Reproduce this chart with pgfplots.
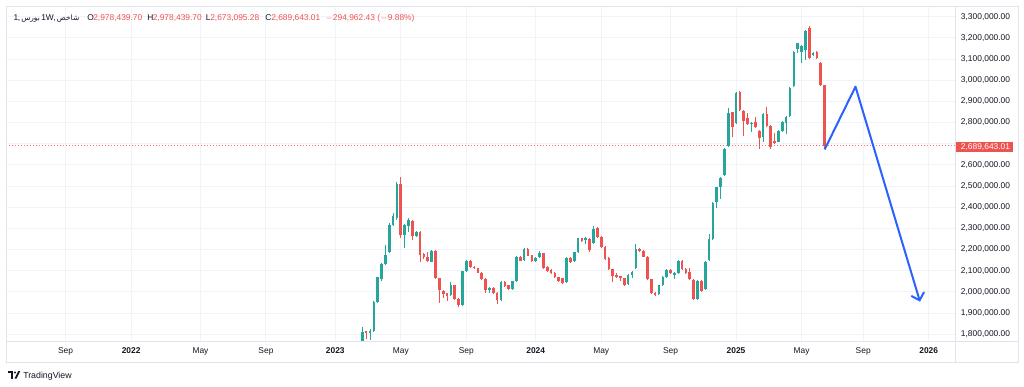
\documentclass[border=0pt]{standalone}
\usepackage{fontspec}
\setmainfont{Liberation Sans}
\newfontfamily\arabicfont[Script=Arabic]{DejaVu Sans}
\TeXXeTstate=1
\usepackage{pgfplots}
\pgfplotsset{compat=1.18}
\usepackage{pgfplotstable}
\usetikzlibrary{arrows.meta}
\definecolor{tvgreen}{HTML}{26A69A}
\definecolor{tvred}{HTML}{EF5350}
\definecolor{tvgrid}{HTML}{F0F3FA}
\definecolor{tvborder}{HTML}{E0E3EB}
\definecolor{tvtext}{HTML}{131722}
\definecolor{tvblue}{HTML}{2962FF}
\newcommand\tvfont{\fontsize{6.3}{7}\selectfont}

% x = weekly bar index, o h l c in thousands
\pgfplotstableread{
x o h l c
0 1740 1833 1730 1812
2 1809 1824 1773 1817
3 1817 1957 1812 1954
4 1954 2072 1950 2069
5 2060 2135 2050 2132
6 2132 2222 2128 2174
7 2190 2327 2185 2316
8 2316 2374 2310 2359
9 2348 2521 2340 2510
11 2269 2320 2206 2315
12 2313 2348 2285 2340
14 2264 2288 2258 2284
18 2143 2200 2140 2195
23 1985 2048 1980 2031
26 1940 2100 1935 2097
27 2097 2150 2092 2146
33 2009 2025 1994 2020
36 1962 2052 1958 2048
39 2012 2054 2008 2050
40 2050 2170 2046 2164
42 2151 2207 2148 2203
45 2146 2166 2142 2162
46 2164 2195 2160 2182
53 2048 2163 2044 2159
55 2146 2191 2142 2187
56 2190 2257 2186 2253
58 2245 2260 2225 2256
60 2230 2313 2225 2297
69 2036 2084 2032 2080
70 2080 2100 2067 2096
71 2112 2226 2108 2203
77 1990 2035 1986 2031
78 2031 2074 2027 2070
79 2072 2108 2068 2104
81 2079 2095 2060 2091
82 2091 2152 2087 2148
87 1965 2057 1961 2053
89 2013 2147 2009 2143
90 2151 2272 2147 2250
91 2250 2425 2246 2421
92 2423 2498 2395 2494
93 2497 2541 2439 2537
94 2552 2680 2548 2675
95 2691 2867 2686 2844
97 2797 2945 2792 2938
101 2795 2804 2757 2800
104 2730 2843 2710 2839
108 2710 2764 2706 2760
109 2760 2808 2756 2804
110 2796 2829 2745 2825
111 2832 2966 2828 2962
112 2973 3139 2969 3135
113 3146 3178 3127 3174
114 3135 3166 3083 3162
115 3143 3236 3095 3232
117 3119 3131 3115 3127
}\greendata

\pgfplotstableread{
x o h l c
1 1814 1816 1776 1808
10 2510 2544 2253 2269
13 2337 2342 2245 2264
15 2283 2288 2143 2173
16 2178 2182 2155 2164
17 2167 2190 2143 2148
19 2195 2198 2060 2064
20 2064 2067 1949 2009
21 2006 2010 1970 1990
22 1994 1996 1959 1982
24 2031 2035 1960 1965
25 1967 1970 1930 1938
28 2146 2150 2115 2119
29 2119 2124 2108 2112
30 2112 2115 2088 2091
31 2091 2094 2057 2061
32 2063 2066 1994 2009
34 2017 2025 1990 1994
35 1994 1998 1943 1962
37 2048 2052 2024 2028
38 2031 2034 2008 2012
41 2164 2168 2144 2148
43 2203 2206 2168 2171
44 2173 2176 2142 2146
47 2182 2186 2110 2115
48 2119 2122 2095 2099
49 2104 2107 2087 2091
50 2091 2094 2065 2069
51 2069 2072 2049 2053
52 2065 2068 2038 2044
54 2162 2165 2137 2141
57 2253 2257 2237 2241
59 2250 2254 2187 2198
61 2302 2306 2254 2258
62 2259 2262 2207 2211
63 2214 2217 2153 2157
64 2162 2165 2103 2107
65 2107 2110 2048 2075
66 2081 2091 2068 2072
67 2074 2077 2053 2064
68 2064 2067 2029 2033
72 2203 2207 2189 2193
73 2195 2198 2163 2167
74 2167 2170 2056 2060
75 2060 2063 1990 1994
76 1997 2000 1982 1986
80 2104 2108 2084 2088
83 2148 2152 2105 2109
84 2109 2112 2087 2091
85 2096 2112 2056 2060
86 2056 2060 1961 1965
88 2053 2057 2002 2006
96 2848 2852 2730 2780
98 2943 2947 2855 2859
99 2856 2860 2738 2809
100 2820 2844 2789 2793
102 2804 2825 2774 2778
103 2762 2766 2675 2726
105 2840 2872 2780 2784
106 2785 2789 2674 2686
107 2712 2749 2700 2707
116 3245 3256 3100 3104
118 3132 3140 3100 3104
119 3083 3087 2975 2978.4397
120 2978.4397 2978.4397 2673.09528 2689.64301
}\reddata

\begin{document}
\begin{tikzpicture}[x=0.75pt,y=0.75pt]
\useasboundingbox (0,0) rectangle (1024,386);
\fill[white] (0,0) rectangle (1024,386);

\begin{axis}[
  at={(4.5pt,33.225pt)}, anchor=south west,
  scale only axis, width=712.275pt, height=251.025pt,
  xmin=-92.47, xmax=154.01, ymin=1765, ymax=3345.8,
  axis line style={draw=none},
  grid=major, major grid style={draw=tvgrid, line width=0.75pt},
  major tick length=0pt,
  xtick={-77,-60,-42,-25,-7,10,27,45,62,80,97,114,130,147},
  xticklabels={Sep,\textbf{2022},May,Sep,\textbf{2023},May,Sep,\textbf{2024},May,Sep,\textbf{2025},May,Sep,\textbf{2026}},
  ytick={1800,1900,...,3300},
  yticklabels={{1,800,000.00},{1,900,000.00},{2,000,000.00},{2,100,000.00},{2,200,000.00},{2,300,000.00},{2,400,000.00},{2,500,000.00},{2,600,000.00},{},{2,800,000.00},{2,900,000.00},{3,000,000.00},{3,100,000.00},{3,200,000.00},{3,300,000.00}},
  yticklabel pos=right,
  ticklabel style={font=\tvfont, color=tvtext},
  yticklabel style={anchor=west, inner sep=0pt, xshift=3.75pt},
  xticklabel style={anchor=base, inner sep=0pt, yshift=-9.2pt},
]
% last price line
\addplot[tvred!80, line width=0.75pt, dash pattern=on 0.75pt off 1.5pt] coordinates {(-92.47,2689.64301) (154.01,2689.64301)};
% wicks
\addplot[draw=none, mark=none, error bars/.cd, y dir=both, y explicit, error mark=none,
  error bar style={draw=tvgreen, line width=0.75pt}]
  table[x=x, y expr={(\thisrow{h}+\thisrow{l})/2}, y error expr={(\thisrow{h}-\thisrow{l})/2}] {\greendata};
\addplot[draw=none, mark=none, error bars/.cd, y dir=both, y explicit, error mark=none,
  error bar style={draw=tvred, line width=0.75pt}]
  table[x=x, y expr={(\thisrow{h}+\thisrow{l})/2}, y error expr={(\thisrow{h}-\thisrow{l})/2}] {\reddata};
% bodies
\addplot[draw=none, mark=none, error bars/.cd, y dir=both, y explicit, error mark=none,
  error bar style={draw=tvgreen, line width=2pt}]
  table[x=x, y expr={(\thisrow{o}+\thisrow{c})/2}, y error expr={abs(\thisrow{c}-\thisrow{o})/2}] {\greendata};
\addplot[draw=none, mark=none, error bars/.cd, y dir=both, y explicit, error mark=none,
  error bar style={draw=tvred, line width=2pt}]
  table[x=x, y expr={(\thisrow{o}+\thisrow{c})/2}, y error expr={abs(\thisrow{o}-\thisrow{c})/2}] {\reddata};
% forecast arrow
\addplot[tvblue, line width=1.5pt, line join=round, -{Straight Barb[length=5pt,width=10pt,line width=1.5pt]}]
  coordinates {(120,2673.1) (128,2969.4) (144.74,1954)};
\end{axis}

% frame
\draw[tvborder, line width=0.75pt] (6,24) rectangle (1018,379);
\draw[tvborder, line width=0.75pt] (955.7,24) -- (955.7,379);
\draw[tvborder, line width=0.75pt] (6,44.3) -- (1018,44.3);

% price label
\fill[tvred] (955.7,234.3) rectangle (1012.7,244.3);
\node[anchor=west, inner sep=0pt, font=\tvfont, text=white] at (960.7,239.3) {2,689,643.01};

% header
\begin{scope}[every node/.style={anchor=base west, inner sep=0pt, font=\tvfont}]
\node[text=tvtext] at (13.3,365.3) {1};
\node[text=tvtext] at (17.6,365.3) {,};
\node[text=tvtext, font=\fontsize{5.6}{7}\arabicfont] at (21,365.3) {\beginR بورس\endR};
\node[text=tvtext] at (41,365.3) {1W,};
\node[text=tvtext, font=\fontsize{5.6}{7}\arabicfont] at (56.7,365.3) {\beginR شاخص\endR};
\node[text=tvtext] at (87,365.3) {O};
\node[text=tvred] at (93,365.3) {2,978,439.70};
\node[text=tvtext] at (147,365.3) {H};
\node[text=tvred] at (152.5,365.3) {2,978,439.70};
\node[text=tvtext] at (205.5,365.3) {L};
\node[text=tvred] at (210,365.3) {2,673,095.28};
\node[text=tvtext] at (265,365.3) {C};
\node[text=tvred] at (271,365.3) {2,689,643.01};
\node[text=tvred] at (325,365.3) {$-$294,962.43 ($-$9.88\%)};
\end{scope}

% logo
\fill[tvtext] (8,13.5) rectangle (13,15);
\fill[tvtext] (11.4,7.5) rectangle (13,15);
\fill[tvtext] (15,13.6) circle (1.1);
\fill[tvtext] (14.6,7.5) -- (16.6,7.5) -- (20.3,15) -- (18.3,15) -- cycle;
\node[anchor=base west, inner sep=0pt, font=\fontsize{6.6}{7}\selectfont, text=tvtext] at (23,8) {TradingView};
\end{tikzpicture}
\end{document}
